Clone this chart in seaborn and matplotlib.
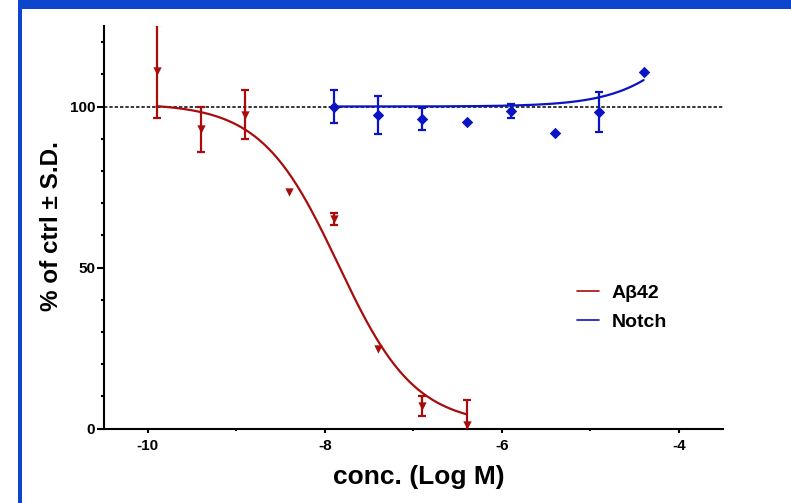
import numpy as np
import matplotlib
matplotlib.use("Agg")
import matplotlib.pyplot as plt
from matplotlib.lines import Line2D
from matplotlib.patches import Rectangle
from matplotlib.ticker import MultipleLocator
import seaborn as sns

# --- data ---
abeta_x = [-9.9, -9.4, -8.9, -8.4, -7.9, -7.4, -6.9, -6.4]
abeta_y = [110.9, 93.0, 97.5, 73.5, 65.0, 24.7, 7.0, 1.1]
abeta_sd = [14.5, 7.0, 7.6, 0.0, 1.8, 0.0, 3.2, 7.8]

notch_x = [-7.9, -7.4, -6.9, -6.4, -5.9, -5.4, -4.9, -4.4]
notch_y = [100.0, 97.4, 96.2, 95.1, 98.6, 91.8, 98.3, 110.7]
notch_sd = [5.2, 5.8, 3.4, 0.0, 2.3, 0.0, 6.2, 0.0]

# four-parameter logistic fits (bottom, top, logEC50, hill)
abeta_fit = (1.0, 101.0, -7.85, -1.0)
notch_fit = (100.0, 160.0, -3.6, 1.0)

RED = "#A80C0C"
BLUE = "#0A14C4"


def logistic(x, bottom, top, logec50, hill):
    return bottom + (top - bottom) / (1 + 10 ** ((logec50 - x) * hill))


sns.set_theme(style="ticks")
plt.rcParams["font.family"] = ["Liberation Sans", "DejaVu Sans"]
plt.rcParams["font.weight"] = "bold"
plt.rcParams["axes.unicode_minus"] = False
plt.rcParams["text.color"] = "black"
plt.rcParams["axes.labelcolor"] = "black"

fig = plt.figure(figsize=(7.91, 5.03), dpi=100)
ax = fig.add_axes([103.5 / 791, 1 - 428.5 / 503, 619.8 / 791, 402.5 / 503])

# reference line at 100 %
ax.axhline(100, color="black", lw=1.1, dashes=(2.2, 1.3), zorder=1)

# fitted curves
for xs, fit, col in [(abeta_x, abeta_fit, RED), (notch_x, notch_fit, BLUE)]:
    grid = np.linspace(min(xs), max(xs), 200)
    sns.lineplot(x=grid, y=logistic(grid, *fit), color=col, lw=1.6, ax=ax, zorder=2)

# error bars (only where an SD is shown)
for xs, ys, sd, col in [(abeta_x, abeta_y, abeta_sd, RED), (notch_x, notch_y, notch_sd, BLUE)]:
    xs, ys, sd = np.array(xs), np.array(ys), np.array(sd)
    m = sd > 0
    ax.errorbar(xs[m], ys[m], yerr=sd[m], fmt="none", ecolor=col, elinewidth=1.6,
                capsize=3, capthick=1.6, zorder=3, clip_on=True)

sns.scatterplot(x=abeta_x, y=abeta_y, marker="v", s=36, color=RED, linewidth=0, ax=ax, zorder=4)
sns.scatterplot(x=notch_x, y=notch_y, marker="D", s=34, color=BLUE, linewidth=0, ax=ax, zorder=4)

ax.set_xlim(-10.5, -3.5)
ax.set_ylim(0, 125)
ax.set_xticks([-10, -8, -6, -4])
ax.xaxis.set_minor_locator(MultipleLocator(1))
ax.set_yticks([0, 50, 100])
ax.yaxis.set_minor_locator(MultipleLocator(10))

sns.despine(ax=ax)
for s in ["left", "bottom"]:
    ax.spines[s].set_linewidth(1.5)
    ax.spines[s].set_color("black")
ax.tick_params(axis="y", which="major", length=5, width=1.5, pad=1, labelsize=11, colors="black")
ax.tick_params(axis="y", which="minor", length=2.2, width=1.5, colors="black")
ax.tick_params(axis="x", which="major", length=3, width=1.5, pad=4.5, labelsize=11, colors="black")
ax.tick_params(axis="x", which="minor", length=1.5, width=1.5, colors="black")
for lab in ax.get_xticklabels() + ax.get_yticklabels():
    lab.set_fontweight("bold")

ax.set_xlabel("conc. (Log M)", fontsize=19, fontweight="bold", va="center", color="black")
ax.xaxis.set_label_coords(0.509, -0.121)
ax.set_ylabel("% of ctrl ± S.D.", fontsize=17.5, fontweight="bold", va="center", color="black")
ax.yaxis.set_label_coords(-0.084, 0.504)

handles = [Line2D([], [], color=RED, lw=1.2), Line2D([], [], color=BLUE, lw=1.2)]
fig.legend(handles, ["Aβ42", "Notch"], loc="upper left",
           bbox_to_anchor=(577 / 791, 1 - 284.5 / 503), frameon=False,
           prop={"size": 14, "weight": "bold"}, handlelength=1.13,
           handletextpad=0.67, labelspacing=0.56, borderpad=0, borderaxespad=0)

# blue frame from the screenshot
frame = "#0D45CD"
fig.add_artist(Rectangle((18 / 791, 1 - 9 / 503), 1, 9 / 503, transform=fig.transFigure,
                         color=frame, lw=0))
fig.add_artist(Rectangle((18 / 791, 0), 4 / 791, 1, transform=fig.transFigure,
                         color=frame, lw=0))

fig.savefig("out.png", dpi=100)
